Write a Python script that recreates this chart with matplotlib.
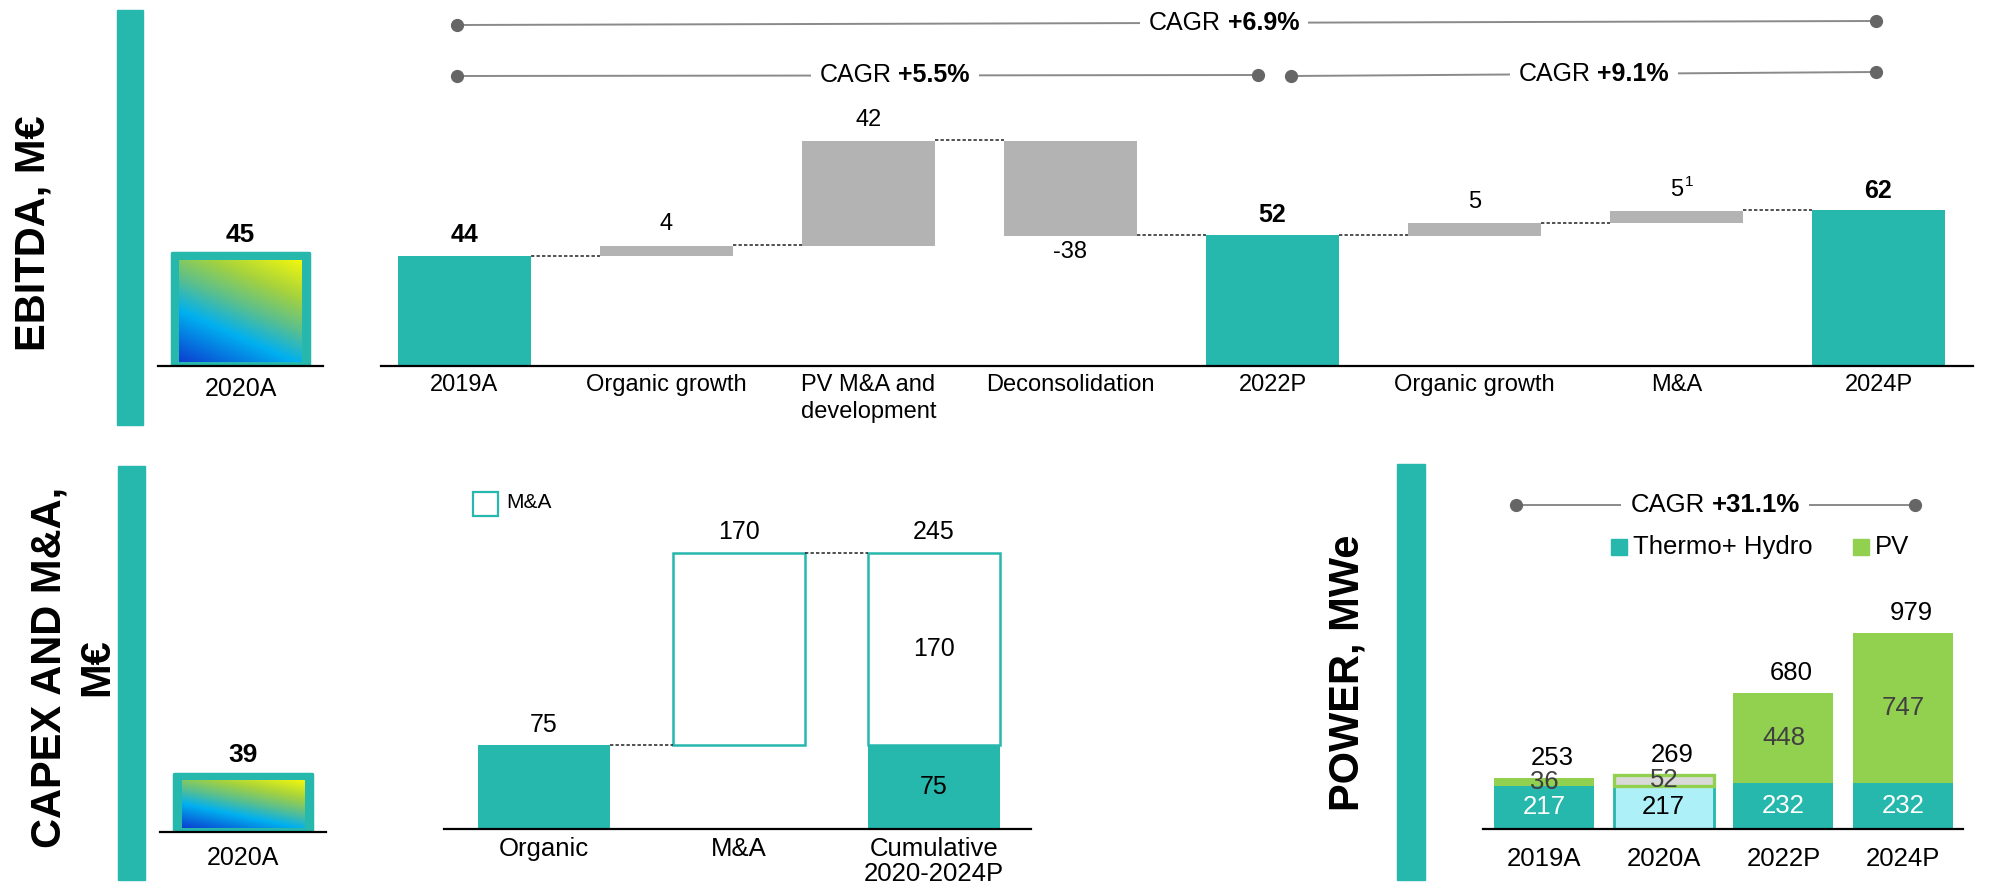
import matplotlib
matplotlib.use('Agg')
import matplotlib.pyplot as plt
import numpy as np
from matplotlib.patches import Rectangle
from matplotlib.colors import LinearSegmentedColormap

plt.rcParams['font.family'] = ['Liberation Sans', 'DejaVu Sans']

W, H = 1990, 889
TEAL = '#26b7ad'
GREEN = '#92d050'
GREY = '#b3b3b3'
DOT = '#666666'

# ---- data ----
ebitda_2020 = 45
ebitda_cats = ['2019A', 'Organic growth', 'PV M&A and\ndevelopment', 'Deconsolidation',
               '2022P', 'Organic growth', 'M&A', '2024P']
ebitda_vals = [44, 4, 42, -38, 52, 5, 5, 62]
ebitda_is_total = [True, False, False, False, True, False, False, True]
ebitda_notes = ['', '', '', '', '', '', '1', '']
ebitda_cagr = ['+6.9%', '+5.5%', '+9.1%']

capex_2020 = 39
capex_cats = ['Organic', 'M&A', 'Cumulative\n2020-2024P']
capex_organic = 75
capex_mna = 170

power_years = ['2019A', '2020A', '2022P', '2024P']
power_thermo = [217, 217, 232, 232]
power_pv = [36, 52, 448, 747]
power_cagr = '+31.1%'

fig = plt.figure(figsize=(W / 100, H / 100), dpi=100)
renderer = fig.canvas.get_renderer()


def add_ax(x0, y0, x1, y1):
    ax = fig.add_axes([x0 / W, 1 - y1 / H, (x1 - x0) / W, (y1 - y0) / H])
    for s in ['top', 'right', 'left']:
        ax.spines[s].set_visible(False)
    ax.spines['bottom'].set_linewidth(1.6)
    ax.set_yticks([])
    ax.patch.set_alpha(0)
    return ax


def label(ax, x, y, s, dy_px, size, **kw):
    ax.annotate(s, (x, y), xytext=(0, dy_px * 0.72), textcoords='offset points',
                ha='center', va='center', fontsize=size, **kw)


def text_w(s, size, weight='normal'):
    t = fig.text(0, 0, s, fontsize=size, fontweight=weight)
    w = t.get_window_extent(renderer).width
    t.remove()
    return w


def cagr(ax, x0, x1, y0, y1, xl, value, size):
    ax.plot([x0, x1], [y0, y1], color='#8a8a8a', lw=1.4, zorder=1)
    ax.plot([x0, x1], [y0, y1], 'o', color=DOT, ms=8.5, zorder=2)
    yl = y0 + (y1 - y0) * (xl - x0) / (x1 - x0)
    w1 = text_w('CAGR', size)
    w2 = text_w(value, size, 'bold')
    sp = size * 100 / 72 * 0.278
    tot = w1 + sp + w2
    box = dict(boxstyle='square,pad=0.35', fc='white', ec='none')
    ax.annotate('CAGR', (xl, yl), xytext=(-tot / 2 * 0.72, 0), textcoords='offset points',
                ha='left', va='center', fontsize=size, bbox=box, zorder=3)
    ax.annotate(value, (xl, yl), xytext=((-tot / 2 + w1 + sp) * 0.72, 0), textcoords='offset points',
                ha='left', va='center', fontsize=size, fontweight='bold', bbox=box, zorder=3)


grad_cmap = LinearSegmentedColormap.from_list(
    'grad', [(0, '#0b3fd0'), (0.33, '#00b0f0'), (0.55, '#5ec08a'), (0.75, '#a5d23e'), (1, '#f2f70c')])


def gradient_bar(ax, value, width, inset_x, inset_y):
    ax.bar(0, value, width=width, color=TEAL, edgecolor=TEAL, lw=2.5, joinstyle='round')
    gx, gy = np.meshgrid(np.linspace(0, 1, 200), np.linspace(0, 1, 120))
    g = 0.35 * gx + 0.65 * gy
    ax.imshow(g, cmap=grad_cmap, origin='lower', aspect='auto', interpolation='bilinear',
              extent=(-width / 2 + inset_x, width / 2 - inset_x, inset_y * 0.5, value - inset_y),
              zorder=3)


# ---- decorative side bars + titles ----
for x0, y0, x1, y1 in [(117, 10, 143, 425), (118, 466, 145, 880), (1397, 464, 1425, 880)]:
    fig.patches.append(Rectangle((x0 / W, 1 - y1 / H), (x1 - x0) / W, (y1 - y0) / H,
                                 transform=fig.transFigure, color=TEAL))

fig.text(45 / W, 1 - 233 / H, 'EBITDA, M€', rotation=90, rotation_mode='anchor',
         ha='center', va='baseline', fontsize=30, fontweight='bold')
fig.text(101 / W, 1 - 667 / H, 'CAPEX AND M&A,\nM€', rotation=90, rotation_mode='anchor',
         ha='center', va='baseline', fontsize=30, fontweight='bold', linespacing=1.25,
         multialignment='center')
fig.text(1359 / W, 1 - 673 / H, 'POWER, MWe', rotation=90, rotation_mode='anchor',
         ha='center', va='baseline', fontsize=30, fontweight='bold')

# ---- EBITDA 2020A ----
ax = add_ax(158, 0, 323, 365.5)
ax.set_xlim(-0.5, 0.5)
ax.set_ylim(0, 146.2)
gradient_bar(ax, ebitda_2020, 0.83, 0.045, 2.8)
label(ax, 0, ebitda_2020, str(ebitda_2020), 18, 19, fontweight='bold')
ax.set_xticks([0], ['2020A'], fontsize=18)
ax.tick_params(axis='x', length=0, pad=8)

# ---- EBITDA bridge ----
ax = add_ax(381, 0, 1973, 365.5)
ax.set_xlim(-0.413, 7.468)
ax.set_ylim(0, 146.2)
w = 0.66
level = 0
levels = []
for i, (v, tot) in enumerate(zip(ebitda_vals, ebitda_is_total)):
    if tot:
        ax.bar(i, v, width=w, color=TEAL)
        level = v
        label(ax, i, v, str(v), 20, 18, fontweight='bold')
    else:
        bottom = level if v > 0 else level + v
        ax.bar(i, abs(v), bottom=bottom, width=w, color=GREY)
        level += v
        if v > 0:
            label(ax, i, level, str(v), 21, 17)
            if ebitda_notes[i]:
                ax.annotate(ebitda_notes[i], (i, level), xytext=(13 * 0.72, 28 * 0.72),
                            textcoords='offset points', ha='center', va='center', fontsize=11)
        else:
            label(ax, i, level, str(v), -17, 17)
    levels.append(level)
for i in range(len(ebitda_vals) - 1):
    ax.plot([i + w / 2, i + 1 - w / 2], [levels[i], levels[i]], color='#222222',
            lw=1.1, ls=(0, (2.2, 1.4)))
ax.set_xticks(range(len(ebitda_cats)), ebitda_cats, fontsize=17, linespacing=1.3)
ax.tick_params(axis='x', length=0, pad=6)

cagr(ax, -0.035, 6.99, 136.2, 137.8, 3.76, ebitda_cagr[0], 18)
cagr(ax, -0.035, 3.93, 115.8, 116.2, 2.13, ebitda_cagr[1], 18)
cagr(ax, 4.09, 6.99, 115.8, 117.4, 5.59, ebitda_cagr[2], 18)

# ---- CAPEX 2020A ----
ax = add_ax(160, 700, 326, 832)
ax.set_xlim(-0.5, 0.5)
ax.set_ylim(0, 88.8)
gradient_bar(ax, capex_2020, 0.83, 0.045, 4.8)
label(ax, 0, capex_2020, str(capex_2020), 19, 19, fontweight='bold')
ax.set_xticks([0], ['2020A'], fontsize=18)
ax.tick_params(axis='x', length=0, pad=10)

# ---- CAPEX and M&A ----
ax = add_ax(444, 480, 1031, 829)
ax.set_xlim(-0.513, 2.497)
ax.set_ylim(0, 310.2)
w = 0.677
cum = capex_organic + capex_mna
ax.bar(0, capex_organic, width=w, color=TEAL)
ax.bar(1, capex_mna, bottom=capex_organic, width=w, facecolor='white', edgecolor=TEAL, lw=1.8)
ax.bar(2, capex_organic, width=w, color=TEAL)
ax.bar(2, capex_mna, bottom=capex_organic, width=w, facecolor='white', edgecolor=TEAL, lw=1.8)
ax.plot([w / 2, 1 - w / 2], [capex_organic, capex_organic], color='#222222', lw=1.1, ls=(0, (2.2, 1.4)))
ax.plot([1 + w / 2, 2 - w / 2], [cum, cum], color='#222222', lw=1.1, ls=(0, (2.2, 1.4)))
label(ax, 0, capex_organic, str(capex_organic), 20, 18)
label(ax, 1, cum, str(capex_mna), 21, 18)
label(ax, 2, cum, str(cum), 21, 18)
label(ax, 2, capex_organic + capex_mna / 2, str(capex_mna), 0, 18)
label(ax, 2, capex_organic / 2, str(capex_organic), 0, 18)
ax.add_patch(Rectangle((-0.364, 278.2), 0.128, 21.4, fc='white', ec=TEAL, lw=1.6))
ax.text(-0.195, 289.8, 'M&A', fontsize=15, va='center', ha='left')
ax.set_xticks(range(3), capex_cats, fontsize=18.5, linespacing=1.05)
ax.tick_params(axis='x', length=0, pad=6)

# ---- POWER ----
ax = add_ax(1483, 450, 1963, 829)
ax.set_xlim(-0.51, 3.50)
ax.set_ylim(0, 1895)
w = 0.835
x = np.arange(len(power_years))
for i in x:
    th, pv = power_thermo[i], power_pv[i]
    if power_years[i] == '2020A':
        ax.bar(i, th, width=w, facecolor='#aef0f8', edgecolor=TEAL, lw=2)
        ax.bar(i, pv, bottom=th, width=w, facecolor='#d9d9d9', edgecolor=GREEN, lw=2.4)
        tcol = 'black'
    else:
        ax.bar(i, th, width=w, color=TEAL)
        ax.bar(i, pv, bottom=th, width=w, color=GREEN)
        tcol = 'white'
    label(ax, i, th / 2, str(th), 0, 18.5, color=tcol)
    label(ax, i, th + pv / 2, str(pv), 0, 18.5, color='#404040')
    ax.annotate(str(th + pv), (i, th + pv), xytext=(8 * 0.72, 20 * 0.72), textcoords='offset points',
                ha='center', va='center', fontsize=18.5)
ax.set_xticks(x, power_years, fontsize=18.5)
ax.tick_params(axis='x', length=0, pad=13)
cagr(ax, -0.234, 3.10, 1620, 1620, 1.43, power_cagr, 18.5)
ax.add_patch(Rectangle((0.56, 1370), 0.134, 80, color=TEAL))
ax.text(0.744, 1410, 'Thermo+ Hydro', fontsize=18.5, va='center', ha='left')
ax.add_patch(Rectangle((2.58, 1370), 0.134, 80, color=GREEN))
ax.text(2.765, 1410, 'PV', fontsize=18.5, va='center', ha='left')

fig.savefig('out.png', dpi=100)
